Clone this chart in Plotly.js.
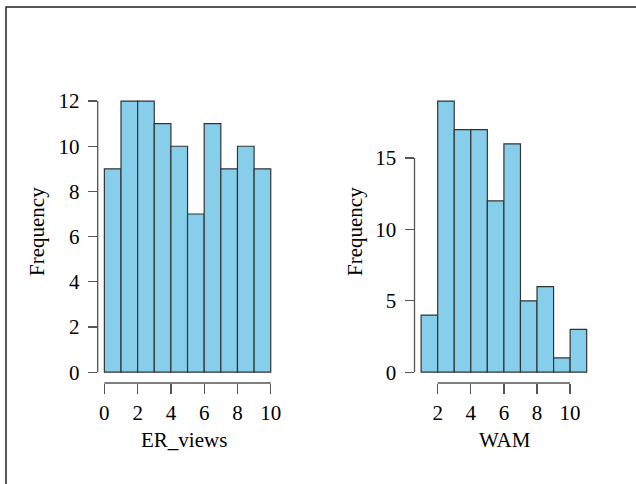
<!DOCTYPE html>
<html>
<head>
<meta charset="utf-8">
<script src="https://cdn.plot.ly/plotly-3.0.1.min.js"></script>
<style>
html,body{margin:0;padding:0;background:#fff;}
#chart{width:636px;height:484px;}
</style>
</head>
<body>
<div id="chart"></div>
<script>
// Data: histogram bin starts (bin width 1) and counts
const erBinStarts = [0, 1, 2, 3, 4, 5, 6, 7, 8, 9];
const erCounts    = [9, 12, 12, 11, 10, 7, 11, 9, 10, 9];
const wamBinStarts = [1, 2, 3, 4, 5, 6, 7, 8, 9, 10];
const wamCounts    = [4, 19, 17, 17, 12, 16, 5, 6, 1, 3];

const erXTicks  = [0, 2, 4, 6, 8, 10];
const erYTicks  = [0, 2, 4, 6, 8, 10, 12];
const wamXTicks = [2, 4, 6, 8, 10];
const wamYTicks = [0, 5, 10, 15];

const xTitles = ['ER_views', 'WAM'];
const yTitle = 'Frequency';

const W = 636, H = 484;
const px = v => v / W;
const py = v => 1 - v / H;

const barStyle = {color: '#87CEEB', line: {color: '#333333', width: 1.2}};
const font = {family: 'Liberation Serif, Times New Roman, serif', size: 21, color: '#000'};
const axisCol = '#555555';

const traces = [
  {type: 'bar', x: erBinStarts, y: erCounts, offset: 0, width: 1, marker: barStyle, xaxis: 'x', yaxis: 'y', hoverinfo: 'x+y'},
  {type: 'bar', x: wamBinStarts, y: wamCounts, offset: 0, width: 1, marker: barStyle, xaxis: 'x2', yaxis: 'y2', hoverinfo: 'x+y'}
];

function rng(a, b) { const d = (b - a) * 0.04; return [a - d, b + d]; }

const xCommon = {showgrid: false, zeroline: false, showline: false, ticks: 'outside', ticklen: 10, tickwidth: 1.3, tickcolor: axisCol, tickmode: 'array', tickfont: font, ticklabelstandoff: 1, fixedrange: true};
const yCommon = {showgrid: false, zeroline: false, showline: false, ticks: 'outside', ticklen: 9, tickwidth: 1.3, tickcolor: axisCol, tickmode: 'array', tickfont: font, ticklabelstandoff: 4, fixedrange: true};

const yDom = [py(383), py(90.2)];

const layout = {
  width: W, height: H,
  margin: {l: 0, r: 0, t: 0, b: 0},
  paper_bgcolor: '#fff', plot_bgcolor: '#fff',
  showlegend: false,
  bargap: 0,
  xaxis: Object.assign({}, xCommon, {domain: [px(97.7), px(277.4)], range: rng(0, 10), tickvals: erXTicks, anchor: 'y'}),
  yaxis: Object.assign({}, yCommon, {domain: yDom, range: rng(0, 12), tickvals: erYTicks, anchor: 'x'}),
  xaxis2: Object.assign({}, xCommon, {domain: [px(414.5), px(593.3)], range: rng(1, 11), tickvals: wamXTicks, anchor: 'y2'}),
  yaxis2: Object.assign({}, yCommon, {domain: yDom, range: rng(0, 19), tickvals: wamYTicks, anchor: 'x2'}),
  shapes: [
    // R-style axis lines spanning only the tick range
    {type: 'line', xref: 'x', yref: 'y domain', x0: erXTicks[0], x1: erXTicks[erXTicks.length - 1], y0: 0, y1: 0, line: {color: axisCol, width: 1.3}},
    {type: 'line', xref: 'x domain', yref: 'y', x0: 0, x1: 0, y0: erYTicks[0], y1: erYTicks[erYTicks.length - 1], line: {color: axisCol, width: 1.3}},
    {type: 'line', xref: 'x2', yref: 'y2 domain', x0: wamXTicks[0], x1: wamXTicks[wamXTicks.length - 1], y0: 0, y1: 0, line: {color: axisCol, width: 1.3}},
    {type: 'line', xref: 'x2 domain', yref: 'y2', x0: 0, x1: 0, y0: wamYTicks[0], y1: wamYTicks[wamYTicks.length - 1], line: {color: axisCol, width: 1.3}},
    // outer frame (left and top edges)
    {type: 'path', xref: 'paper', yref: 'paper', path: `M ${px(6)} ${py(H + 2)} L ${px(6)} ${py(7)} L ${px(W + 2)} ${py(7)}`, line: {color: '#222', width: 1.5}}
  ],
  annotations: [
    {xref: 'paper', yref: 'paper', x: px(184), y: py(440), text: xTitles[0], showarrow: false, font: font, xanchor: 'center', yanchor: 'middle'},
    {xref: 'paper', yref: 'paper', x: px(505), y: py(440), text: xTitles[1], showarrow: false, font: font, xanchor: 'center', yanchor: 'middle'},
    {xref: 'paper', yref: 'paper', x: px(37), y: py(232), text: yTitle, showarrow: false, font: font, textangle: -90, xanchor: 'center', yanchor: 'middle'},
    {xref: 'paper', yref: 'paper', x: px(355), y: py(232), text: yTitle, showarrow: false, font: font, textangle: -90, xanchor: 'center', yanchor: 'middle'}
  ]
};

Plotly.newPlot('chart', traces, layout, {displayModeBar: false, staticPlot: true});
</script>
</body>
</html>
